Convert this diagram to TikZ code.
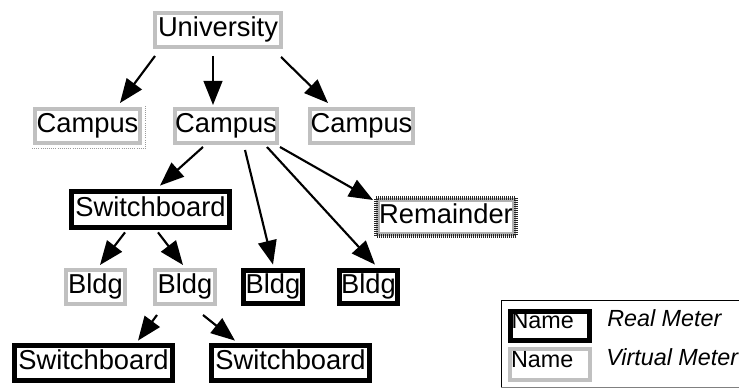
\documentclass[tikz,border=0pt]{standalone}
\usepackage{fontspec}
\setmainfont{Liberation Sans}
\usetikzlibrary{arrows.meta}
\definecolor{vgray}{HTML}{C0C0C0}
\tikzset{
  every node/.style={font=\fontsize{20.5pt}{24pt}\selectfont, text height=14.7pt, text depth=4.3pt, inner sep=0pt},
  virt/.style={draw=vgray, line width=3pt, fill=white},
  real/.style={draw=black, line width=3.6pt, fill=white},
  sz/.style 2 args={minimum width=#1*0.75pt, minimum height=#2*0.75pt},
  arr/.style={line width=1.6pt, -{Triangle[length=18pt, width=14pt]}},
  legtxt/.style={font=\fontsize{17.5pt}{20pt}\selectfont\itshape, anchor=base west, text height=, text depth=},
  legname/.style={font=\fontsize{17.5pt}{20pt}\selectfont, text height=12.5pt, text depth=8pt, align=left, inner xsep=0.75pt}
}
\begin{document}
\begin{tikzpicture}[x=0.75pt, y=-0.75pt]
\useasboundingbox (0,0) rectangle (739,388);
\begin{scope}
\clip (0,0) rectangle (739,388);
% legend frame
\draw[line width=0.75pt] (501,387) -- (501,301) -- (760,301);
\draw[line width=0.6pt, black!50] (501,387) -- (760,387);
\end{scope}

\node[virt, sz={126}{34}] (uni) at (218,30) {University};
\node[virt, sz={105}{34}] (c1) at (87.5,126) {Campus};
\node[virt, sz={102}{34}] (c2) at (226,126) {Campus};
\node[virt, sz={103}{34}] (c3) at (361.5,126) {Campus};
\node[real, sz={158}{36}] (sb1) at (150.5,209.5) {Switchboard};
\node[draw=gray!60, line width=3pt, fill=white, sz={136}{34}] (rem) at (446,217) {Remainder};
\draw[line width=3pt, dash pattern=on 0.75pt off 0.75pt, black!85] (rem.south west) rectangle (rem.north east);
\node[virt, sz={59}{34}] (b1) at (95.5,287) {Bldg};
\node[virt, sz={60}{34}] (b2) at (185,287) {Bldg};
\node[real, sz={59}{33}] (b3) at (273,287) {Bldg};
\node[real, sz={58}{33}] (b4) at (368.5,287) {Bldg};
\node[real, sz={158}{35}] (sb2) at (93.5,363) {Switchboard};
\node[real, sz={158}{35}] (sb3) at (290.5,363) {Switchboard};

% dotted shadow on left campus
\draw[vgray!80!black, densely dotted, line width=0.6pt]
  ([shift={(-1,3.5)}]c1.south west) -| ([shift={(3.5,-1)}]c1.north east);

% legend
\node[real, legname, text width=77*0.75pt, minimum height=29*0.75pt] (n1) at (550,326) {Name};
\node[virt, legname, text width=78*0.75pt, minimum height=31*0.75pt] (n2) at (550,364.5) {Name};
\node[legtxt] (t1) at (607,327) {Real Meter};
\node[legtxt] (t2) at (606,365) {Virtual Meter};

% arrows
\draw[arr] ([shift={(2,7)}]uni.south west) -- ([shift={(32.5,-4)}]c1.north);
\draw[arr] ([shift={(-5,7)}]uni.south) -- ([shift={(-13,-2)}]c2.north);
\draw[arr] ([shift={(-2,8)}]uni.south east) -- ([shift={(20,-4)}]c3.north west);
\draw[arr] ([shift={(-23,2)}]c2.south) -- ([shift={(9.5,-3.5)}]sb1.north);
\draw[arr] ([shift={(19,5)}]c2.south) -- ([shift={(0,-3.5)}]b3.north);
\draw[arr] ([shift={(41,2)}]c2.south) -- ([shift={(6.5,-3.5)}]b4.north);
\draw[arr] ([shift={(1,2)}]c2.south east) -- ([shift={(-3,2)}]rem.north west);
\draw[arr] ([shift={(-25.5,2.5)}]sb1.south) -- ([shift={(4.5,-3)}]b1.north);
\draw[arr] ([shift={(7.5,2.5)}]sb1.south) -- ([shift={(-2,-3)}]b2.north);
\draw[arr] ([shift={(-28,9)}]b2.south) -- ([shift={(44.5,-2.5)}]sb2.north);
\draw[arr] ([shift={(18,9)}]b2.south) -- ([shift={(-55.5,-2.5)}]sb3.north);
\end{tikzpicture}
\end{document}
